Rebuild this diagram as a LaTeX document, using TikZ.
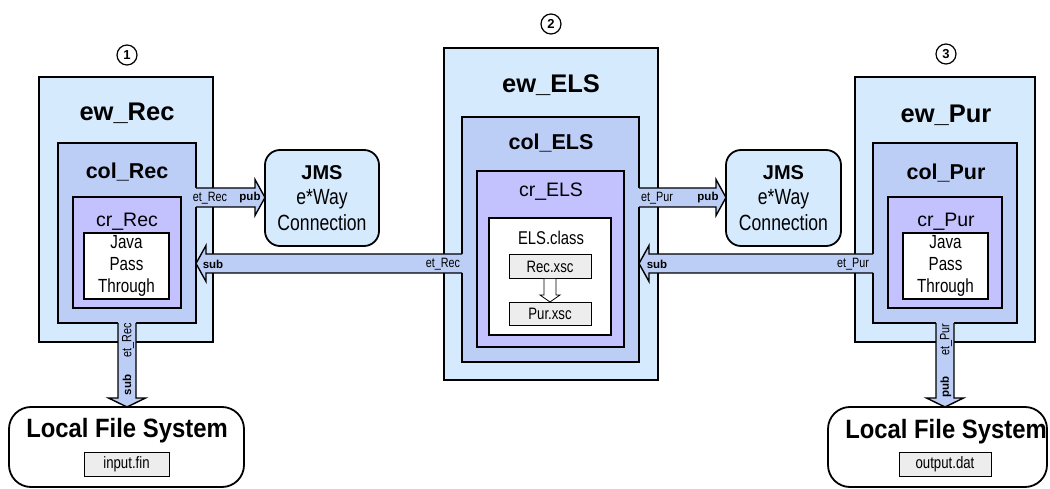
\documentclass[tikz,border=0pt]{standalone}
\usepackage{fontspec}
\setmainfont{Liberation Sans}
\newfontfamily\narrow[FakeStretch=0.8]{Liberation Sans}
\newfontfamily\semicond[FakeStretch=0.9]{Liberation Sans}
\usetikzlibrary{calc}

\newcommand\fsz[2]{\fontsize{#1}{#2}\selectfont}

\definecolor{ewfill}{HTML}{D6EAFE}
\definecolor{colfill}{HTML}{BCCEF6}
\definecolor{crfill}{HTML}{C4C2FE}
\definecolor{filefill}{HTML}{EDEDED}

\tikzset{
  box/.style={draw=black, line width=1.8pt, inner sep=0pt, outer sep=0pt, anchor=north west},
  ewbox/.style={box, fill=ewfill},
  colbox/.style={box, fill=colfill},
  crbox/.style={box, fill=crfill},
  codebox/.style={box, line width=1.2pt, fill=white, align=center, font=\narrow\fsz{19}{22}},
  filebox/.style={box, line width=1pt, fill=filefill, minimum height=24pt, font=\narrow\fsz{16.5}{20}},
  jmsbox/.style={box, fill=ewfill, rounded corners=15pt, align=center, font=\narrow\fsz{22}{25.5}},
  lfsbox/.style={box, fill=white, rounded corners=22pt},
  ewtitle/.style={font=\bfseries\fsz{25.5}{30}},
  coltitle/.style={font=\bfseries\fsz{21.5}{26}},
  crtitle/.style={font=\fsz{19.5}{24}},
  lfstitle/.style={font=\semicond\bfseries\fsz{26.5}{30}},
  marker/.style={circle, draw=black, line width=1.2pt, minimum size=20pt, inner sep=0pt, font=\bfseries\fsz{13}{15}},
  tlabel/.style={inner sep=0pt, font=\narrow\fsz{13.5}{16}},
  plabel/.style={inner sep=0pt, font=\bfseries\fsz{11.5}{14}},
  arrowline/.style={draw=black, line width=1.4pt, line join=miter},
}

% horizontal fat arrow: tail point, tip point, direction (1 right, -1 left)
\newcommand\hfat[3]{%
  \path let \p1=(#1), \p2=(#2) in
    [fill=colfill] ({\x1-(#3)*1.5pt},{\y2+9.5pt}) -- ({\x2-(#3)*10pt},{\y2+9.5pt})
      -- ({\x2-(#3)*10pt},{\y2+18pt}) -- (\x2,\y2) -- ({\x2-(#3)*10pt},{\y2-18pt})
      -- ({\x2-(#3)*10pt},{\y2-9.5pt}) -- ({\x1-(#3)*1.5pt},{\y2-9.5pt}) -- cycle;
  \path let \p1=(#1), \p2=(#2) in
    [arrowline] (\x1,{\y2+9.5pt}) -- ({\x2-(#3)*10pt},{\y2+9.5pt})
      -- ({\x2-(#3)*10pt},{\y2+18pt}) -- (\x2,\y2) -- ({\x2-(#3)*10pt},{\y2-18pt})
      -- ({\x2-(#3)*10pt},{\y2-9.5pt}) -- (\x1,{\y2-9.5pt});
}
% downward fat arrow: tail point, tip point
\newcommand\vfat[2]{%
  \path let \p1=(#1), \p2=(#2) in
    [fill=colfill] ({\x2-9pt},{\y1+1.5pt}) -- ({\x2-9pt},{\y2+9pt}) -- ({\x2-18.5pt},{\y2+9pt})
      -- (\x2,\y2) -- ({\x2+18.5pt},{\y2+9pt}) -- ({\x2+9pt},{\y2+9pt}) -- ({\x2+9pt},{\y1+1.5pt}) -- cycle;
  \path let \p1=(#1), \p2=(#2) in
    [arrowline] ({\x2-9pt},\y1) -- ({\x2-9pt},{\y2+9pt}) -- ({\x2-18.5pt},{\y2+9pt})
      -- (\x2,\y2) -- ({\x2+18.5pt},{\y2+9pt}) -- ({\x2+9pt},{\y2+9pt}) -- ({\x2+9pt},\y1);
}

\begin{document}
\begin{tikzpicture}[x=1pt,y=-1pt]
\useasboundingbox (0,0) rectangle (1050,489);

% step markers
\node[marker] (stepA) at (127,55) {1};
\node[marker] (stepB) at (551,24) {2};
\node[marker] (stepC) at (946,54) {3};

% receiving e*Way
\node[ewbox, minimum width=174pt, minimum height=265pt] (ewRec) at (39,77) {};
\node[ewtitle] (ewRecT) at (127,113) {ew\_Rec};
\node[colbox, minimum width=138pt, minimum height=180pt] (colRec) at (58,143) {};
\node[coltitle] (colRecT) at (127,172) {col\_Rec};
\node[crbox, minimum width=108pt, minimum height=111pt] (crRec) at (73,197) {};
\node[crtitle] (crRecT) at (127,222) {cr\_Rec};
\node[codebox, minimum width=85pt, minimum height=66pt] (javaRec) at (84,233) {Java\\Pass\\Through};

% ELS e*Way
\node[ewbox, minimum width=214pt, minimum height=332pt] (ewELS) at (444,48) {};
\node[ewtitle] (ewELST) at (551,85) {ew\_ELS};
\node[colbox, minimum width=177pt, minimum height=245pt] (colELS) at (462,117) {};
\node[coltitle] (colELST) at (551,143) {col\_ELS};
\node[crbox, minimum width=147pt, minimum height=176pt] (crELS) at (477,171) {};
\node[crtitle] (crELST) at (551,192) {cr\_ELS};
\node[codebox, minimum width=122pt, minimum height=117pt] (clsELS) at (489,218) {};
\node[font=\narrow\fsz{18.5}{22}] (clsELST) at (551,238) {ELS.class};
\node[filebox, minimum width=82pt] (recX) at (509,255) {Rec.xsc};
\node[filebox, minimum width=82pt, minimum height=23pt] (purX) at (509,302) {Pur.xsc};
\path let \p1=(recX.south), \p2=(purX.north) in
  [draw=black, line width=0.8pt, fill=white]
  ({\x1-6pt},\y1) -- ({\x1-6pt},{\y2+7pt}) -- ({\x1-10pt},{\y2+7pt}) -- (\x1,\y2)
  -- ({\x1+10pt},{\y2+7pt}) -- ({\x1+6pt},{\y2+7pt}) -- ({\x1+6pt},\y1);

% purchasing e*Way
\node[ewbox, minimum width=180pt, minimum height=265pt] (ewPur) at (855,77) {};
\node[ewtitle] (ewPurT) at (946,115) {ew\_Pur};
\node[colbox, minimum width=144pt, minimum height=180pt] (colPur) at (873,143) {};
\node[coltitle] (colPurT) at (946,173) {col\_Pur};
\node[crbox, minimum width=114pt, minimum height=111pt] (crPur) at (888,197) {};
\node[crtitle] (crPurT) at (946,222) {cr\_Pur};
\node[codebox, minimum width=85pt, minimum height=66pt] (javaPur) at (903,233) {Java\\Pass\\Through};

% JMS connections
\node[jmsbox, minimum width=114pt, minimum height=96pt] (jmsA) at (265,150)
  {{\normalfont\bfseries\fsz{20}{26}JMS}\\e*Way\\Connection};
\node[jmsbox, minimum width=115pt, minimum height=96pt] (jmsB) at (726,150)
  {{\normalfont\bfseries\fsz{20}{26}JMS}\\e*Way\\Connection};

% local file systems
\node[lfsbox, minimum width=235pt, minimum height=80pt] (lfsRec) at (9,407) {};
\node[lfstitle] (lfsRecT) at (127,431) {Local File System};
\node[filebox, minimum width=85pt] (inFile) at (84,452) {input.fin};
\node[lfsbox, minimum width=219pt, minimum height=80pt] (lfsPur) at (828,407) {};
\node[lfstitle] (lfsPurT) at (946,432) {Local File System};
\node[filebox, minimum width=92pt] (outFile) at (899,452) {output.dat};

% event-type flows
\hfat{colRec.east |- 0,197.5}{jmsA.west |- 0,197.5}{1}
\hfat{colELS.west |- 0,263.5}{colRec.east |- 0,263.5}{-1}
\hfat{colELS.east |- 0,197.5}{jmsB.west |- 0,197.5}{1}
\hfat{colPur.west |- 0,263.5}{colELS.east |- 0,263.5}{-1}
\vfat{colRec.south}{colRec.south |- lfsRec.north}
\vfat{colPur.south}{colPur.south |- lfsPur.north}

% flow labels
\node[tlabel] (lbA) at (210,198) {et\_Rec};
\node[plabel] (lbB) at (250,198) {pub};
\node[plabel] (lbC) at (213,264) {sub};
\node[tlabel] (lbD) at (443,264) {et\_Rec};
\node[tlabel] (lbE) at (657,198) {et\_Pur};
\node[plabel] (lbF) at (708,198) {pub};
\node[plabel] (lbG) at (657,264) {sub};
\node[tlabel] (lbH) at (853,264) {et\_Pur};
\node[tlabel, rotate=90] (lbI) at (128,340) {et\_Rec};
\node[plabel, rotate=90] (lbJ) at (127,385) {sub};
\node[tlabel, rotate=90] (lbK) at (946,340) {et\_Pur};
\node[plabel, rotate=90] (lbL) at (946,387) {pub};
\end{tikzpicture}
\end{document}
